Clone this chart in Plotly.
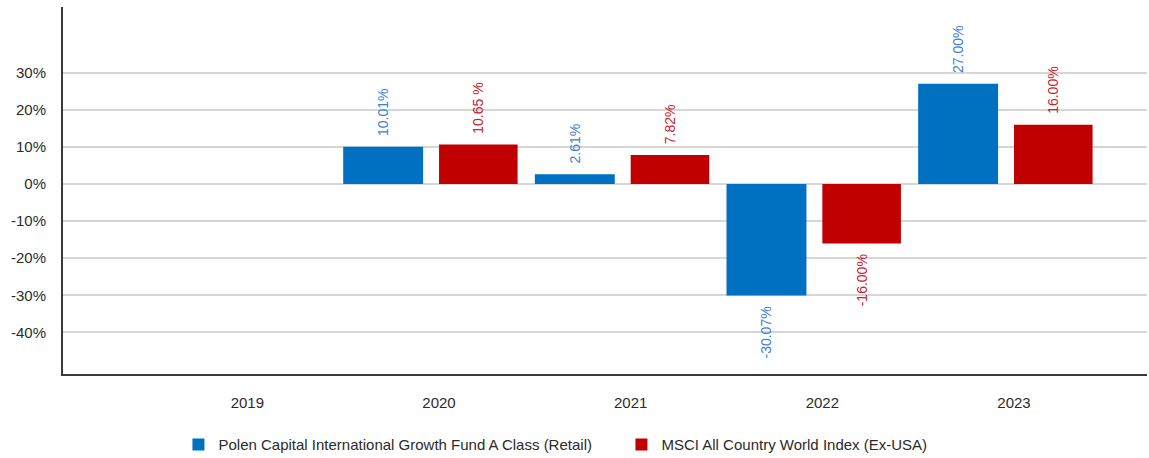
import plotly.graph_objects as go

years = ["2019", "2020", "2021", "2022", "2023"]
fund_years = ["2020", "2021", "2022", "2023"]
fund_values = [10.01, 2.61, -30.07, 27.00]
fund_labels = ["10.01%", "2.61%", "-30.07%", "27.00%"]
index_values = [10.65, 7.82, -16.00, 16.00]
index_labels = ["10.65 %", "7.82%", "-16.00%", "16.00%"]
fund_name = "Polen Capital International Growth Fund A Class (Retail)"
index_name = "MSCI All Country World Index (Ex-USA)"
y_ticks = [30, 20, 10, 0, -10, -20, -30, -40]
y_tick_text = ["30%", "20%", "10%", "0%", "-10%", "-20%", "-30%", "-40%"]

FONT = "Liberation Sans, Arial, sans-serif"
BLUE = "#0070C0"
RED = "#C00000"
PAD = "\u00a0\u00a0"


def padded(labels, values):
    # rotated text reads bottom-to-top: pad the end nearest the bar
    return [PAD + t if v >= 0 else t + PAD for t, v in zip(labels, values)]


xpos = [years.index(y) for y in fund_years]

fig = go.Figure()
fig.add_trace(go.Bar(
    x=xpos, y=fund_values, name=fund_name,
    marker=dict(color=BLUE, line=dict(width=0)),
    width=0.417, offset=-0.5,
    text=padded(fund_labels, fund_values), textposition="outside", textangle=-90,
    textfont=dict(family=FONT, size=14, color="#3f7fd1"),
    constraintext="none", cliponaxis=False, hoverinfo="skip",
))
fig.add_trace(go.Bar(
    x=xpos, y=index_values, name=index_name,
    marker=dict(color=RED, line=dict(width=0)),
    width=0.41, offset=0.0,
    text=padded(index_labels, index_values), textposition="outside", textangle=-90,
    textfont=dict(family=FONT, size=14, color="#c8232e"),
    constraintext="none", cliponaxis=False, hoverinfo="skip",
))

fig.update_layout(
    width=1149, height=458,
    margin=dict(l=63, r=2, t=7, b=84, autoexpand=False),
    paper_bgcolor="white", plot_bgcolor="white",
    barmode="overlay",
    font=dict(family=FONT, size=15, color="#2b2b2b"),
    showlegend=True,
    legend=dict(
        orientation="h", x=0.1065, y=-0.193, xanchor="left", yanchor="middle",
        font=dict(family=FONT, size=15, color="#2b2b2b"),
        entrywidth=398, entrywidthmode="pixels",
        traceorder="normal",
    ),
    xaxis=dict(
        range=[-0.962, 4.694],
        tickmode="array", tickvals=list(range(len(years))), ticktext=years,
        showgrid=False, zeroline=False,
        showline=True, linecolor="#3a3a3a", linewidth=2,
        ticks="outside", ticklen=14, tickcolor="rgba(0,0,0,0)",
        tickfont=dict(family=FONT, size=15, color="#2b2b2b"),
    ),
    yaxis=dict(
        range=[-51.2, 47.7],
        tickmode="array", tickvals=y_ticks, ticktext=y_tick_text,
        showgrid=True, gridcolor="#d6d6d6", gridwidth=1.5,
        zeroline=False,
        showline=True, linecolor="#3a3a3a", linewidth=2,
        ticks="outside", ticklen=12, tickcolor="rgba(0,0,0,0)",
        tickfont=dict(family=FONT, size=15, color="#2b2b2b"),
    ),
)

fig.write_html(
    "out.html",
    config={"displayModeBar": False},
    post_script="document.body.style.margin='0';",
)
